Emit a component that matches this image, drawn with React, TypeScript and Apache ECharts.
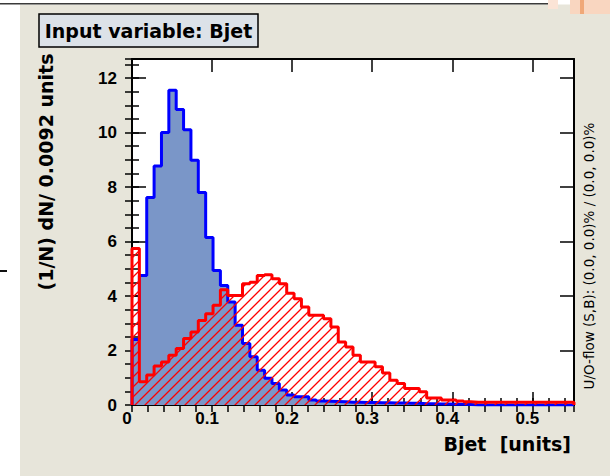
import React, { useEffect, useRef } from "react";
import * as echarts from "echarts";

// ---- data ----
const BIN_WIDTH = 0.0092;
const X_MIN = 0;
const X_MAX = 0.552;
const Y_MAX = 12.7;

const X_TICK_LABELS = ["0", "0.1", "0.2", "0.3", "0.4", "0.5"];
const Y_TICK_LABELS = ["0", "2", "4", "6", "8", "10", "12"];

// signal (blue), normalised density per bin
const signalDensity = [
  2.4, 4.75, 7.62, 8.77, 10.0, 11.55, 10.85, 10.1, 8.98, 7.8,
  6.15, 4.94, 4.39, 3.78, 2.93, 2.26, 1.77, 1.28, 0.98, 0.79,
  0.55, 0.37, 0.3, 0.3, 0.18, 0.15, 0.14, 0.13, 0.12, 0.1,
  0.1, 0.09, 0.09, 0.08, 0.08, 0.07, 0.07, 0.06, 0.06, 0.05,
  0.05, 0.04, 0.04, 0.03, 0.03, 0.02, 0, 0, 0, 0,
  0, 0, 0, 0, 0, 0, 0, 0, 0, 0,
];

// background (red, hatched), normalised density per bin
const backgroundDensity = [
  5.74, 0.85, 1.1, 1.43, 1.58, 1.83, 2.07, 2.44, 2.68, 3.1,
  3.35, 3.66, 4.23, 4.02, 4.02, 4.45, 4.51, 4.75, 4.78, 4.63,
  4.45, 4.1, 3.9, 3.6, 3.29, 3.29, 3.17, 2.86, 2.31, 2.13,
  1.83, 1.58, 1.58, 1.4, 1.17, 0.91, 0.79, 0.61, 0.61, 0.49,
  0.26, 0.26, 0.18, 0.18, 0.15, 0.12, 0.1, 0.1, 0.1, 0.1,
  0.1, 0.1, 0.1, 0.1, 0.1, 0.1, 0.1, 0.1, 0.1, 0.1,
];

const TITLE = "Input variable: Bjet";
const X_TITLE = "Bjet  [units]";
const Y_TITLE = "(1/N) dN/ 0.0092 units";
const OVERFLOW_TEXT = "U/O-flow (S,B): (0.0, 0.0)% / (0.0, 0.0)%";

// ---- helpers ----
function toSteps(vals: number[]): number[][] {
  const pts: number[][] = [[X_MIN, 0]];
  vals.forEach((v, i) => pts.push([X_MIN + i * BIN_WIDTH, v]));
  const end = X_MIN + vals.length * BIN_WIDTH;
  pts.push([end, vals[vals.length - 1]]);
  pts.push([end, 0]);
  return pts;
}

function makeHatch(): HTMLCanvasElement {
  const c = document.createElement("canvas");
  c.width = 10;
  c.height = 10;
  const ctx = c.getContext("2d")!;
  ctx.strokeStyle = "#ff0000";
  ctx.lineWidth = 1.3;
  ctx.beginPath();
  ctx.moveTo(-1, 11);
  ctx.lineTo(11, -1);
  ctx.moveTo(-1, 1);
  ctx.lineTo(1, -1);
  ctx.moveTo(9, 11);
  ctx.lineTo(11, 9);
  ctx.stroke();
  return c;
}

const xFmt = (v: number) => {
  const i = Math.round(v / 0.1);
  return Math.abs(v - i * 0.1) < 1e-6 && i < X_TICK_LABELS.length ? X_TICK_LABELS[i] : "";
};
const yFmt = (v: number) => {
  const i = Math.round(v / 2);
  return Math.abs(v - i * 2) < 1e-6 && i < Y_TICK_LABELS.length ? Y_TICK_LABELS[i] : "";
};

const frameLine = { show: true, onZero: false, lineStyle: { color: "#000", width: 2 } };
const tickLine = { color: "#000", width: 1.5 };
const labelFont = {
  fontSize: 17,
  fontWeight: "bold" as const,
  fontFamily: "Liberation Sans, Arial, sans-serif",
  color: "#000",
};

function xAxisDef(position: "bottom" | "top", major: boolean, labels: boolean) {
  return {
    type: "value",
    position,
    min: X_MIN,
    max: X_MAX,
    interval: major ? 0.1 : 0.02,
    axisLine: major ? frameLine : { show: false },
    axisTick: { show: true, inside: true, length: major ? 13 : 7, lineStyle: tickLine },
    axisLabel: labels
      ? { show: true, margin: 5, showMaxLabel: false, formatter: xFmt, padding: [0, 10, 0, 0], ...labelFont }
      : { show: false },
    splitLine: { show: false },
  };
}

function yAxisDef(position: "left" | "right", major: boolean, labels: boolean) {
  return {
    type: "value",
    position,
    min: 0,
    max: Y_MAX,
    interval: major ? 2 : 0.5,
    axisLine: major ? frameLine : { show: false },
    axisTick: { show: true, inside: true, length: major ? 14 : 7, lineStyle: tickLine },
    axisLabel: labels
      ? { show: true, margin: 15, showMaxLabel: false, formatter: yFmt, ...labelFont }
      : { show: false },
    splitLine: { show: false },
  };
}

function txt(text: string, x: number, y: number, font: string, align: string, rotation = 0, z = 60) {
  return {
    type: "text",
    z,
    x,
    y,
    rotation,
    silent: true,
    style: {
      text,
      font,
      fill: "#000",
      textAlign: align,
      textVerticalAlign: "middle",
      align,
      verticalAlign: "middle",
    },
  };
}

export default function App() {
  const ref = useRef<HTMLDivElement>(null);

  useEffect(() => {
    if (!ref.current) return;
    const chart = echarts.init(ref.current, null, { renderer: "svg" });
    const hatch = makeHatch();

    const option: any = {
      animation: false,
      grid: {
        show: true,
        left: 132,
        top: 59,
        width: 442,
        height: 346,
        backgroundColor: "#ffffff",
        borderWidth: 0,
        containLabel: false,
      },
      xAxis: [
        xAxisDef("bottom", true, true),
        xAxisDef("bottom", false, false),
        xAxisDef("top", true, false),
        xAxisDef("top", false, false),
      ],
      yAxis: [
        yAxisDef("left", true, true),
        yAxisDef("left", false, false),
        yAxisDef("right", true, false),
        yAxisDef("right", false, false),
      ],
      series: [
        {
          name: "Signal",
          type: "line",
          xAxisIndex: 0,
          yAxisIndex: 0,
          step: "end",
          data: toSteps(signalDensity),
          showSymbol: false,
          symbol: "none",
          lineStyle: { color: "#0000ff", width: 3 },
          areaStyle: { color: "#7a96c8", opacity: 1 },
          z: 2,
        },
        {
          name: "Background",
          type: "line",
          xAxisIndex: 0,
          yAxisIndex: 0,
          step: "end",
          data: toSteps(backgroundDensity),
          showSymbol: false,
          symbol: "none",
          lineStyle: { color: "#ff0000", width: 3 },
          areaStyle: { color: { image: hatch, repeat: "repeat" }, opacity: 1 },
          z: 3,
        },
      ],
      graphic: [
        { type: "rect", z: -100, silent: true, shape: { x: 0, y: 0, width: 610, height: 476 }, style: { fill: "#ffffff" } },
        { type: "rect", z: -99, silent: true, shape: { x: 20, y: 4.5, width: 590, height: 472 }, style: { fill: "#e7e5da" } },
        { type: "rect", z: -98, silent: true, shape: { x: 0, y: 3, width: 549, height: 1.5 }, style: { fill: "#3a3a3a" } },
        { type: "rect", z: -98, silent: true, shape: { x: 0, y: 270, width: 7, height: 2 }, style: { fill: "#111111" } },
        { type: "rect", z: -97, silent: true, shape: { x: 548, y: 0, width: 10, height: 9 }, style: { fill: "#fbe4d6" } },
        { type: "rect", z: -97, silent: true, shape: { x: 570, y: 0, width: 40, height: 14 }, style: { fill: "#f9d6c0" } },
        { type: "rect", z: -96, silent: true, shape: { x: 580, y: 0, width: 4, height: 14 }, style: { fill: "#f0a878" } },
        { type: "rect", z: 50, silent: true, shape: { x: 39, y: 14, width: 219, height: 33 }, style: { fill: "#dce2e8", stroke: "#000", lineWidth: 1.5 } },
        txt(TITLE, 148.5, 31, 'bold 19px "DejaVu Sans"', "center"),
        txt(Y_TITLE, 46, 172, 'bold 19px "DejaVu Sans"', "center", Math.PI / 2),
        txt(X_TITLE, 571, 444, 'bold 19px "DejaVu Sans"', "right"),
        txt(OVERFLOW_TEXT, 589, 256, '13.5px "DejaVu Sans"', "center", Math.PI / 2),
      ],
    };

    chart.setOption(option);
    return () => chart.dispose();
  }, []);

  return (
    <div
      ref={ref}
      style={{ position: "absolute", left: 0, top: 0, width: 610, height: 476 }}
    />
  );
}
